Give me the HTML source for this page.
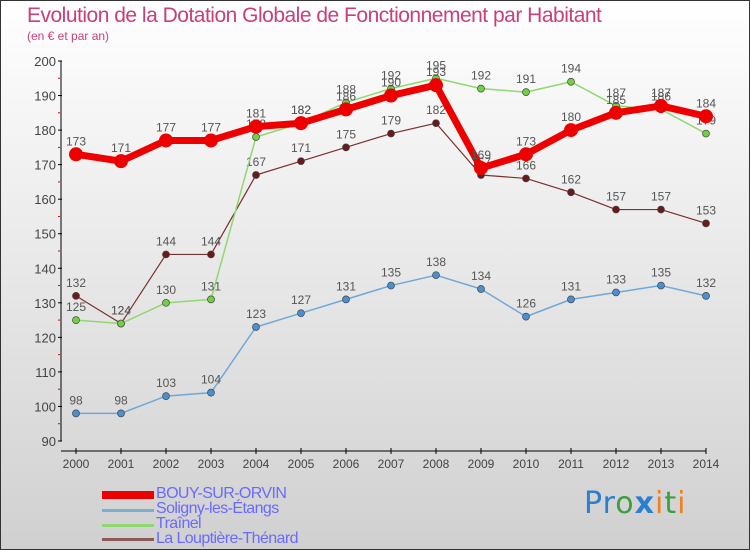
<!DOCTYPE html>
<html><head><meta charset="utf-8"><style>
body{margin:0}
#wrap{position:relative;width:748px;height:548px;border:1px solid #333;background:linear-gradient(#ffffff,#d0d0d0);font-family:"Liberation Sans",sans-serif;overflow:hidden}
.t{position:absolute;color:#c8407a}
.leg{position:absolute;left:155px;font-size:16px;color:#6a6aff;line-height:16px;letter-spacing:-0.6px}
.sw{position:absolute;left:101px;width:52px}
</style></head><body>
<div id="wrap">
<div class="t" style="left:26px;top:3px;font-size:21px;letter-spacing:-0.5px">Evolution de la Dotation Globale de Fonctionnement par Habitant</div>
<div class="t" style="left:26px;top:28px;font-size:12px">(en € et par an)</div>
<svg id="svg" width="750" height="550" style="position:absolute;left:0;top:0"></svg>
<div class="sw" style="top:490px;height:8px;background:#e00"></div>
<div class="sw" style="top:508px;height:3px;background:#7aaed0"></div>
<div class="sw" style="top:523px;height:3px;background:#8fd870"></div>
<div class="sw" style="top:537px;height:3px;background:#8a5a5a"></div>
<div class="leg" style="top:485px">BOUY-SUR-ORVIN</div>
<div class="leg" style="top:500px">Soligny-les-Étangs</div>
<div class="leg" style="top:515px">Traînel</div>
<div class="leg" style="top:530px">La Louptière-Thénard</div>
<div style="position:absolute;left:583px;top:485px;font-size:30px;font-family:'DejaVu Sans',sans-serif;letter-spacing:1px"><span style="color:#2a7fd0">Pr</span><span style="color:#3aa040">o</span><span style="color:#2a7fd0;font-weight:bold">x</span><span style="color:#f08020">i</span><span style="color:#3aa040">t</span><span style="color:#f08020">i</span></div>
</div>
<script>
const years=[2000,2001,2002,2003,2004,2005,2006,2007,2008,2009,2010,2011,2012,2013,2014];
const yTicks=[90,100,110,120,130,140,150,160,170,180,190,200];
const bouy=[173,171,177,177,181,182,186,190,193,169,173,180,185,187,184];
const soligny=[98,98,103,104,123,127,131,135,138,134,126,131,133,135,132];
const trainel=[125,124,130,131,178,182,188,192,195,192,191,194,187,186,179];
const louptiere=[132,124,144,144,167,171,175,179,182,167,166,162,157,157,153];
const svg=document.getElementById('svg');const NS='http://www.w3.org/2000/svg';
function X(i){return 75+i*45}
function Y(v){return 440-(v-90)*380/110}
function mk(t,a){const e=document.createElementNS(NS,t);for(const k in a)e.setAttribute(k,a[k]);svg.appendChild(e);return e}
let ax=mk('line',{x1:60,y1:60,x2:60,y2:440,stroke:'#000'});


let bx=mk('line',{x1:60,y1:450,x2:705,y2:450,stroke:'#000'});


yTicks.forEach(v=>{mk('line',{x1:57,x2:61,y1:Y(v),y2:Y(v),stroke:'#000'});
 if(v<200)mk('line',{x1:57,x2:59,y1:Y(v+5),y2:Y(v+5),stroke:'#e00'});
 const t=mk('text',{x:55,y:Y(v)+5,'text-anchor':'end','font-size':13,fill:'#444'});t.textContent=v;
 
 });
years.forEach((y,i)=>{mk('line',{x1:X(i),x2:X(i),y1:447,y2:453,stroke:'#000'});
 const t=mk('text',{x:X(i),y:467,'text-anchor':'middle','font-size':12,fill:'#444'});t.textContent=y;
 
 });
function series(d,col,w,r,dot,name){
 const p=mk('polyline',{points:d.map((v,i)=>X(i)+','+Y(v)).join(' '),fill:'none',stroke:col,'stroke-width':w,'stroke-linejoin':'round'});
 
 
 d.forEach((v,i)=>{const c=mk('circle',{cx:X(i),cy:Y(v),r:r,fill:dot,stroke:'#444','stroke-width':r>5?0:0.7});
  
  
  const t=mk('text',{x:X(i),y:Y(v)-9,'text-anchor':'middle','font-size':12,fill:'#555'});t.textContent=v;
  
  });
}
series(soligny,'#6fa8d8',1.5,3.5,'#4a90d0','soligny');
series(louptiere,'#7a3030',1.2,3.5,'#6a1a1a','louptiere');
series(trainel,'#8fd870',1.5,3.5,'#70d040','trainel');
series(bouy,'#ee0000',7,7,'#ee0000','bouy');
</script>
</body></html>
